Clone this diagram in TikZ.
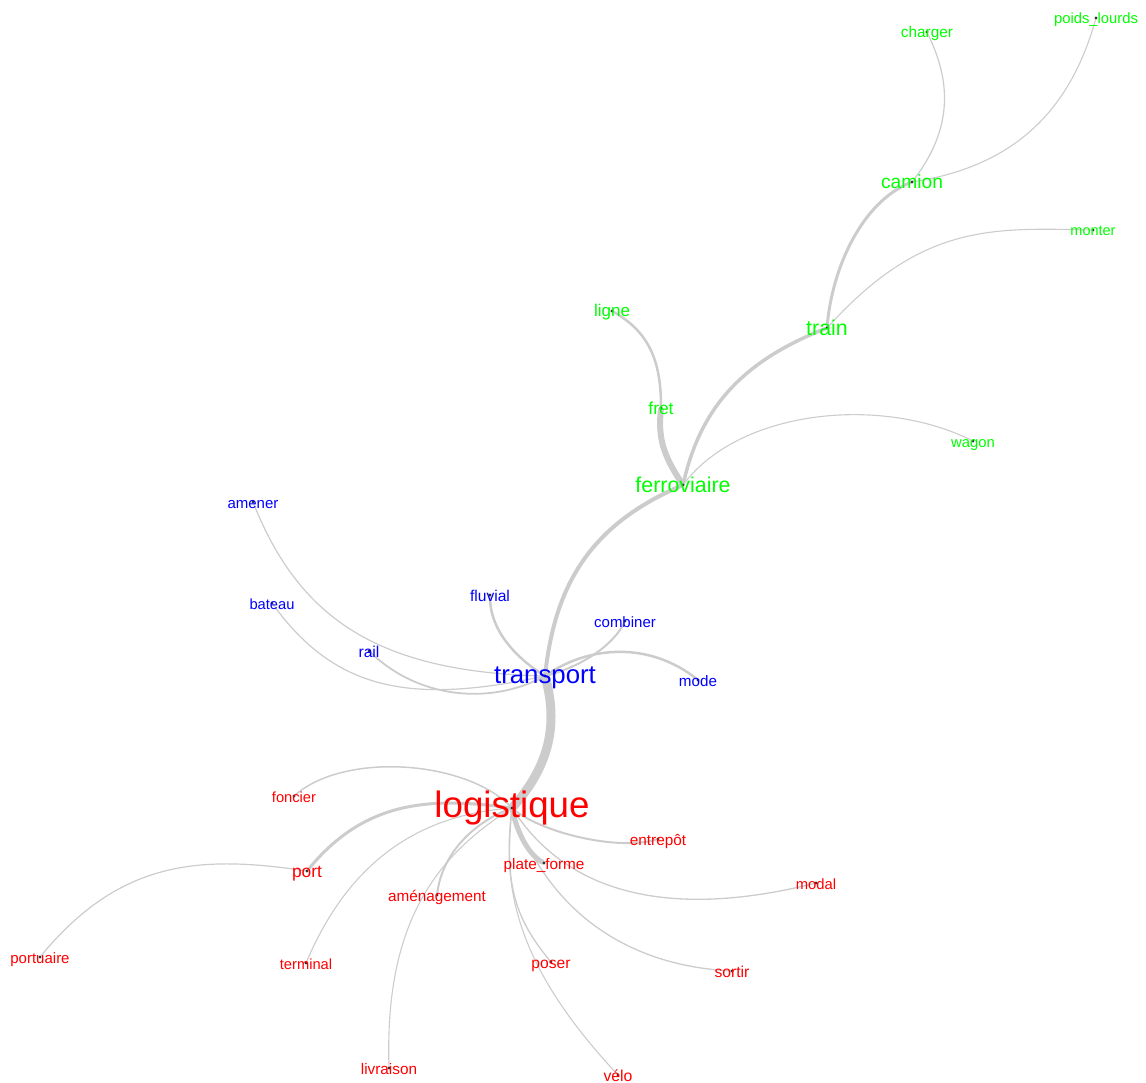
\documentclass[tikz,border=0pt]{standalone}
\usepackage{fontspec}
\setmainfont{Liberation Sans}
\usetikzlibrary{backgrounds}
\definecolor{motrouge}{RGB}{255,0,0}
\definecolor{motvert}{RGB}{0,255,0}
\definecolor{motbleu}{RGB}{0,0,255}
\definecolor{liengris}{RGB}{204,204,204}

\begin{document}
\begin{tikzpicture}[x=1pt, y=-1pt,
    vtx/.style={circle, fill=black!80, inner sep=0pt, minimum size=3.4pt},
    mot/.style={anchor=base, yshift=-6pt, inner sep=0pt, font=\fontsize{#1}{#1}\selectfont},
    mot/.default=15.3,
    lien/.style={draw=liengris, line width=#1, line cap=round},
    lien/.default=1.1pt]
    \useasboundingbox (0,0) rectangle (1146,1083);

    % Vertices
    \node[vtx] (logistique) at (512,808) {};
    \node[vtx] (transport) at (545,676) {};
    \node[vtx] (ferroviaire) at (683,485) {};
    \node[vtx] (fret) at (661,408) {};
    \node[vtx] (ligne) at (612,311) {};
    \node[vtx] (train) at (827,328) {};
    \node[vtx] (camion) at (912,182) {};
    \node[vtx] (charger) at (927,32) {};
    \node[vtx] (poidslourds) at (1096,18) {};
    \node[vtx] (monter) at (1093,230) {};
    \node[vtx] (wagon) at (973,441) {};
    \node[vtx] (amener) at (253,502) {};
    \node[vtx] (bateau) at (272,603) {};
    \node[vtx] (rail) at (369,651) {};
    \node[vtx] (fluvial) at (490,595) {};
    \node[vtx] (combiner) at (625,621) {};
    \node[vtx] (mode) at (698,680) {};
    \node[vtx] (foncier) at (294,796) {};
    \node[vtx] (port) at (307,871) {};
    \node[vtx] (portuaire) at (40,957) {};
    \node[vtx] (terminal) at (306,963) {};
    \node[vtx] (amenagement) at (437,895) {};
    \node[vtx] (livraison) at (389,1068) {};
    \node[vtx] (plateforme) at (544,863) {};
    \node[vtx] (entrepot) at (658,839) {};
    \node[vtx] (modal) at (816,883) {};
    \node[vtx] (sortir) at (732,971) {};
    \node[vtx] (poser) at (551,962) {};
    \node[vtx] (velo) at (618,1075) {};

    % Links
    \begin{scope}[on background layer]
    % rail cluster
    \draw[lien=6pt] (ferroviaire) .. controls +(-20,-30) and +(-3,30) .. (fret);
    \draw[lien=2.5pt] (fret) .. controls +(0,-50) and +(35,20) .. (ligne);
    \draw[lien=3.5pt] (ferroviaire) .. controls +(17,-75) and +(-87,34) .. (train);
    \draw[lien=3pt] (train) .. controls +(5,-60) and +(-50,20) .. (camion);
    \draw[lien=1.2pt] (camion) .. controls +(48,-62) and +(18,38) .. (charger);
    \draw[lien] (camion) .. controls +(95,-15) and +(-28,100) .. (poidslourds);
    \draw[lien] (train) .. controls +(95,-105) and +(-100,-2) .. (monter);
    \draw[lien] (ferroviaire) .. controls +(57,-75) and +(-93,-46) .. (wagon);
    % transport cluster
    \draw[lien=9pt] (logistique) .. controls +(38,-43) and +(13,48) .. (transport);
    \draw[lien=4pt] (transport) .. controls +(10,-91) and +(-93,40) .. (ferroviaire);
    \draw[lien=1.2pt] (transport) .. controls +(-165,-4) and +(47,118) .. (amener);
    \draw[lien=1.2pt] (transport) .. controls +(-135,29) and +(63,87) .. (bateau);
    \draw[lien=1.8pt] (transport) .. controls +(-55,29) and +(50,48) .. (rail);
    \draw[lien=2.5pt] (transport) .. controls +(-30,-19) and +(0,35) .. (fluvial);
    \draw[lien=2pt] (transport) .. controls +(35,-9) and +(-12,25) .. (combiner);
    \draw[lien=2.5pt] (transport) .. controls +(45,-31) and +(-48,-38) .. (mode);
    % logistique cluster
    \draw[lien=1.5pt] (logistique) .. controls +(-47,-48) and +(51,-44) .. (foncier);
    \draw[lien=3pt] (logistique) .. controls +(-82,-11) and +(58,-71) .. (port);
    \draw[lien=1.2pt] (port) .. controls +(-107,-16) and +(80,-97) .. (portuaire);
    \draw[lien] (logistique) .. controls +(-92,7) and +(44,-103) .. (terminal);
    \draw[lien=2pt] (logistique) .. controls +(-40,15) and +(5,-40) .. (amenagement);
    \draw[lien] (logistique) .. controls +(-82,52) and +(-4,-138) .. (livraison);
    \draw[lien=5pt] (logistique) .. controls +(5,25) and +(-15,-8) .. (plateforme);
    \draw[lien=2pt] (logistique) .. controls +(30,25) and +(-40,12) .. (entrepot);
    \draw[lien=1.3pt] (logistique) .. controls +(65,100) and +(-120,30) .. (modal);
    \draw[lien=1.3pt] (logistique) .. controls +(33,97) and +(-112,-6) .. (sortir);
    \draw[lien=1.3pt] (logistique) .. controls +(-7,72) and +(-39,-47) .. (poser);
    \draw[lien] (logistique) .. controls +(-12,90) and +(-93,-100) .. (velo);
    \end{scope}

    % Labels, rail cluster
    \node[mot=21.4, text=motvert, yshift=-1pt] (t-ferroviaire) at (ferroviaire) {ferroviaire};
    \node[mot=17.4, text=motvert] (t-fret) at (fret) {fret};
    \node[mot=17, text=motvert] (t-ligne) at (ligne) {ligne};
    \node[mot=21.4, text=motvert, yshift=-1pt] (t-train) at (train) {train};
    \node[mot=19.2, text=motvert, yshift=-1pt] (t-camion) at (camion) {camion};
    \node[mot=15.4, text=motvert] (t-charger) at (charger) {charger};
    \node[mot=14.8, text=motvert] (t-poidslourds) at (poidslourds) {poids\_lourds};
    \node[mot=14.5, text=motvert] (t-monter) at (monter) {monter};
    \node[mot=14.8, text=motvert] (t-wagon) at (wagon) {wagon};

    % Labels, transport cluster
    \node[mot=25.8, text=motbleu, yshift=-1pt] (t-transport) at (transport) {transport};
    \node[mot=15, text=motbleu] (t-amener) at (amener) {amener};
    \node[mot=14.7, text=motbleu] (t-bateau) at (bateau) {bateau};
    \node[mot=15.7, text=motbleu] (t-rail) at (rail) {rail};
    \node[mot=15.6, text=motbleu] (t-fluvial) at (fluvial) {fluvial};
    \node[mot=15, text=motbleu] (t-combiner) at (combiner) {combiner};
    \node[mot=15.2, text=motbleu] (t-mode) at (mode) {mode};

    % Labels, logistique cluster
    \node[mot=36.7, text=motrouge, yshift=-3pt] (t-logistique) at (logistique) {logistique};
    \node[mot=14.7, text=motrouge] (t-foncier) at (foncier) {foncier};
    \node[mot=17.4, text=motrouge] (t-port) at (port) {port};
    \node[mot=15, text=motrouge] (t-portuaire) at (portuaire) {portuaire};
    \node[mot=14.7, text=motrouge] (t-terminal) at (terminal) {terminal};
    \node[mot=15.3, text=motrouge] (t-amenagement) at (amenagement) {aménagement};
    \node[mot=15.3, text=motrouge] (t-livraison) at (livraison) {livraison};
    \node[mot=15.3, text=motrouge] (t-plateforme) at (plateforme) {plate\_forme};
    \node[mot=15.3, text=motrouge] (t-entrepot) at (entrepot) {entrepôt};
    \node[mot=14.8, text=motrouge] (t-modal) at (modal) {modal};
    \node[mot=15.7, text=motrouge] (t-sortir) at (sortir) {sortir};
    \node[mot=15.6, text=motrouge] (t-poser) at (poser) {poser};
    \node[mot=15.8, text=motrouge] (t-velo) at (velo) {vélo};
\end{tikzpicture}
\end{document}
